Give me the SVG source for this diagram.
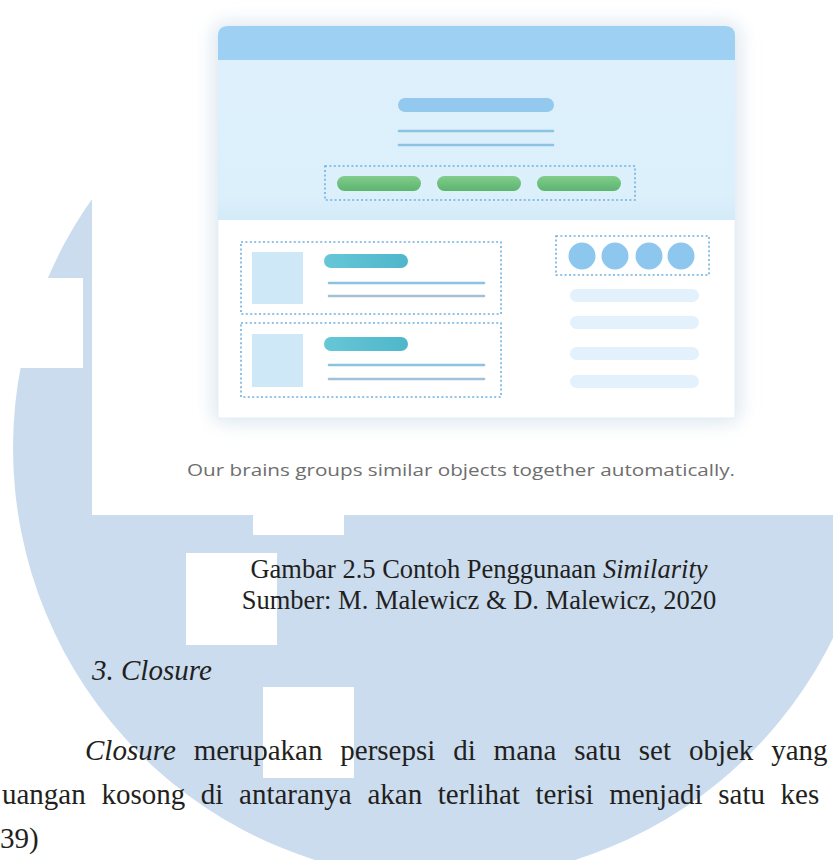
<svg xmlns="http://www.w3.org/2000/svg" width="833" height="860" viewBox="0 0 833 860">
<style>
.serif{font-family:"Liberation Serif","Times New Roman",serif;fill:#231f20}
.cap2{font-size:26.5px}
.body{font-size:29px}
.it{font-style:italic}
.cap{font-family:"Open Sans","Liberation Sans",sans-serif;font-size:17px;fill:#6e6e6e}
.dot{fill:none;stroke:#6fb0e0;stroke-width:1.6;stroke-dasharray:2 2.4}
.sq{fill:#cfe8f8}
.teal{fill:url(#gTeal)}
.green{fill:url(#gGreen)}
.ln1{stroke:#8cc3e2;stroke-width:2.6;stroke-linecap:round}
.ln2{stroke:#a2c1d6;stroke-width:2.6;stroke-linecap:round}
.circ{fill:#8dc7ee}
.lp{fill:#e2f1fb}
.wm{fill:#ffffff}
</style>
<defs>
<linearGradient id="gGreen" x1="0" y1="0" x2="0" y2="1"><stop offset="0" stop-color="#82cc8c"/><stop offset="1" stop-color="#5bb56f"/></linearGradient>
<linearGradient id="gTeal" x1="0" y1="0" x2="1" y2="0"><stop offset="0" stop-color="#66c7d6"/><stop offset="1" stop-color="#4fb6cb"/></linearGradient>
<linearGradient id="gTop" x1="0" y1="0" x2="0" y2="1"><stop offset="0" stop-color="#ddf0fc"/><stop offset="0.85" stop-color="#dcf0fc"/><stop offset="1" stop-color="#d3eaf7"/></linearGradient>
<filter id="blur" x="-20%" y="-20%" width="140%" height="140%"><feGaussianBlur stdDeviation="9"/></filter>
</defs>
<rect width="833" height="860" fill="#ffffff"/>
<g id="watermark">
<circle cx="445" cy="448" r="432" fill="#cadcee"/>
<rect x="0" y="278" width="83" height="90" class="wm"/>
<rect x="253" y="515" width="91" height="20" class="wm"/>
<rect x="186" y="553" width="91" height="92" class="wm"/>
<rect x="263" y="687" width="91" height="91" class="wm"/>
</g>
<g id="figure">
<rect x="92" y="0" width="741" height="515" fill="#ffffff"/>
<rect x="212" y="22" width="529" height="402" rx="14" fill="#dfe9f1" filter="url(#blur)"/>
<g id="card">
<path d="M218 36 Q218 26 228 26 L725 26 Q735 26 735 36 L735 418 L218 418 Z" fill="#ffffff" stroke="#e6eff6" stroke-width="1"/>
<path d="M218 36 Q218 26 228 26 L725 26 Q735 26 735 36 L735 60 L218 60 Z" fill="#9dd0f3"/>
<rect x="218" y="60" width="517" height="160" fill="url(#gTop)"/>
</g>
<g id="hero">
<rect x="398" y="98" width="156" height="14" rx="7" fill="#93c9ef"/>
<line x1="399" y1="131" x2="553" y2="131" class="ln1"/>
<line x1="399" y1="145" x2="553" y2="145" class="ln1"/>
<rect x="325" y="166" width="310" height="34" fill="#e4f4fd" class="dot"/>
<rect x="337" y="176" width="84" height="15" rx="7.5" class="green"/>
<rect x="437" y="176" width="84" height="15" rx="7.5" class="green"/>
<rect x="537" y="176" width="84" height="15" rx="7.5" class="green"/>
</g>
<g id="list-item-1">
<rect x="241" y="242" width="260" height="72" fill="#f1f8fd" class="dot"/>
<rect x="252" y="252" width="51" height="52" class="sq"/>
<rect x="324" y="254" width="84" height="14" rx="7" class="teal"/>
<line x1="329" y1="283" x2="484" y2="283" class="ln1"/>
<line x1="329" y1="296" x2="484" y2="296" class="ln2"/>
</g>
<g id="list-item-2">
<rect x="241" y="323" width="260" height="74" fill="#f1f8fd" class="dot"/>
<rect x="252" y="334" width="51" height="53" class="sq"/>
<rect x="324" y="337" width="84" height="14" rx="7" class="teal"/>
<line x1="329" y1="365" x2="484" y2="365" class="ln1"/>
<line x1="329" y1="379" x2="484" y2="379" class="ln2"/>
</g>
<g id="sidebar">
<rect x="556" y="236" width="153" height="39" fill="#f6fbfe" class="dot"/>
<circle cx="582" cy="256" r="13.5" class="circ"/>
<circle cx="615" cy="256" r="13.5" class="circ"/>
<circle cx="649" cy="256" r="13.5" class="circ"/>
<circle cx="681" cy="256" r="13.5" class="circ"/>
<rect x="570" y="289" width="129" height="13" rx="6.5" class="lp"/>
<rect x="570" y="316" width="129" height="13" rx="6.5" class="lp"/>
<rect x="570" y="347" width="129" height="13" rx="6.5" class="lp"/>
<rect x="570" y="375" width="129" height="13" rx="6.5" class="lp"/>
</g>
<text id="figure-caption" x="187" y="476" class="cap" textLength="548" lengthAdjust="spacingAndGlyphs">Our brains groups similar objects together automatically.</text>
</g>
<g id="captions">
<text x="479" y="578" class="serif cap2" text-anchor="middle">Gambar 2.5 Contoh Penggunaan <tspan class="it">Similarity</tspan></text>
<text x="479" y="609" class="serif cap2" text-anchor="middle">Sumber: M. Malewicz &amp; D. Malewicz, 2020</text>
</g>
<g id="body">
<text x="92" y="680" class="serif body it">3. Closure</text>
<text x="85" y="760" class="serif body" word-spacing="10.6"><tspan class="it">Closure</tspan> merupakan persepsi di mana satu set objek yang</text>
<text x="2" y="804" class="serif body" word-spacing="8.4">uangan kosong di antaranya akan terlihat terisi menjadi satu kes</text>
<text x="0" y="848" class="serif body">39)</text>
</g>
</svg>
